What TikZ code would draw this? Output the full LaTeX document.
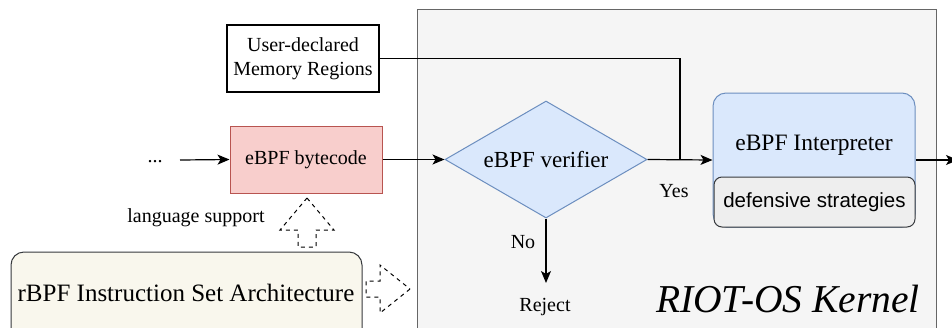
\documentclass[tikz,border=0pt]{standalone}
\usepackage{fontspec}
\setmainfont{Liberation Serif}
\setsansfont{Liberation Sans}
\usetikzlibrary{arrows.meta,shapes.geometric}
\definecolor{kernelfill}{HTML}{F5F5F5}
\definecolor{kernelline}{HTML}{666666}
\definecolor{redfill}{HTML}{F8CECC}
\definecolor{redline}{HTML}{B85450}
\definecolor{bluefill}{HTML}{DAE8FC}
\definecolor{blueline}{HTML}{6C8EBF}
\definecolor{grayfill}{HTML}{EEEEEE}
\definecolor{darkline}{HTML}{36393D}
\definecolor{creamfill}{HTML}{F9F7ED}
\tikzset{
  fs/.style={font=\fontsize{#1}{24}\selectfont},
  conn/.style={draw=black, line width=1.2pt, -{Stealth[length=12pt,width=10pt,inset=3pt]}},
  plain/.style={draw=black, line width=1.2pt},
  blockarrow/.style={draw=black, line width=1pt, dash pattern=on 4pt off 4pt},
  lbl/.style={inner sep=0pt, fs=20},
}
\begin{document}
\begin{tikzpicture}[x=1pt,y=-1pt]
\useasboundingbox (0,0) rectangle (952,327);
% kernel region
\draw[fill=kernelfill, draw=kernelline, line width=1pt] (417,9) rectangle (936,345);
\node[anchor=base, inner sep=0pt, font=\fontsize{39.5}{44}\selectfont\itshape] (kernel) at (788,312) {RIOT-OS Kernel};
% user-declared memory regions
\node[draw=black, line width=1.2pt, fill=white, minimum width=152pt, minimum height=67pt, align=center, inner sep=0pt, fs=20] (user) at (303,58.5) {User-declared\\Memory Regions};
% bytecode
\node[draw=redline, fill=redfill, line width=1pt, minimum width=152pt, minimum height=67pt, inner sep=0pt, fs=20] (bytecode) at (306,159.5) {eBPF bytecode};
\node[lbl] (dots) at (155,162) {...};
\coordinate (dotsend) at (180,160);
% verifier
\node[shape=diamond, aspect=1.73, draw=blueline, fill=bluefill, line width=1pt, minimum width=202pt, minimum height=117pt, inner sep=0pt, fs=23] (verifier) at (546,159.5) {eBPF verifier};
% interpreter
\node[draw=blueline, fill=bluefill, line width=1pt, rounded corners=13pt, minimum width=202pt, minimum height=134pt, inner sep=0pt] (interp) at (814,160) {};
\node[fs=23.5, inner sep=0pt] (interptext) at (814,145) {eBPF Interpreter};
\node[draw=darkline, fill=grayfill, line width=1pt, rounded corners=8pt, minimum width=201pt, minimum height=50pt, inner sep=0pt, font=\sffamily\fontsize{20.5}{24}\selectfont] (defense) at (814.5,202) {defensive strategies};
\coordinate (outend) at (958,160);
% reject
\node[lbl] (reject) at (545,307) {Reject};
\coordinate (rejtip) at (546,283);
\node[lbl] (yes) at (674,191) {Yes};
\node[lbl] (no) at (523,242) {No};
\coordinate (junction) at (680,160);
% ISA
\node[draw=darkline, fill=creamfill, line width=1pt, rounded corners=13pt, minimum width=351pt, minimum height=90pt, inner sep=0pt] (isa) at (186.5,297) {};
\node[inner sep=0pt, fs=25] (isatext) at (186,293) {rBPF Instruction Set Architecture};
\node[lbl] (lang) at (196,218) {language support};
% connectors
\draw[conn] (dotsend) -- (bytecode.west);
\draw[conn] (bytecode.east) -- (verifier.west);
\draw[plain] (user.east) -| (junction);
\draw[conn] (verifier.east) -- (interp.west);
\draw[conn] (interp.east) -- (outend);
\draw[conn] (verifier.south) -- (rejtip);
% dashed block arrows
\draw[blockarrow] (307,198) -- (334,230) -- (316,230) -- (316,247) -- (298,247) -- (298,230) -- (280,230) -- cycle;
\draw[blockarrow] (410,289) -- (380,313) -- (380,297) -- (366,297) -- (366,281) -- (380,281) -- (380,265) -- cycle;
\end{tikzpicture}
\end{document}
